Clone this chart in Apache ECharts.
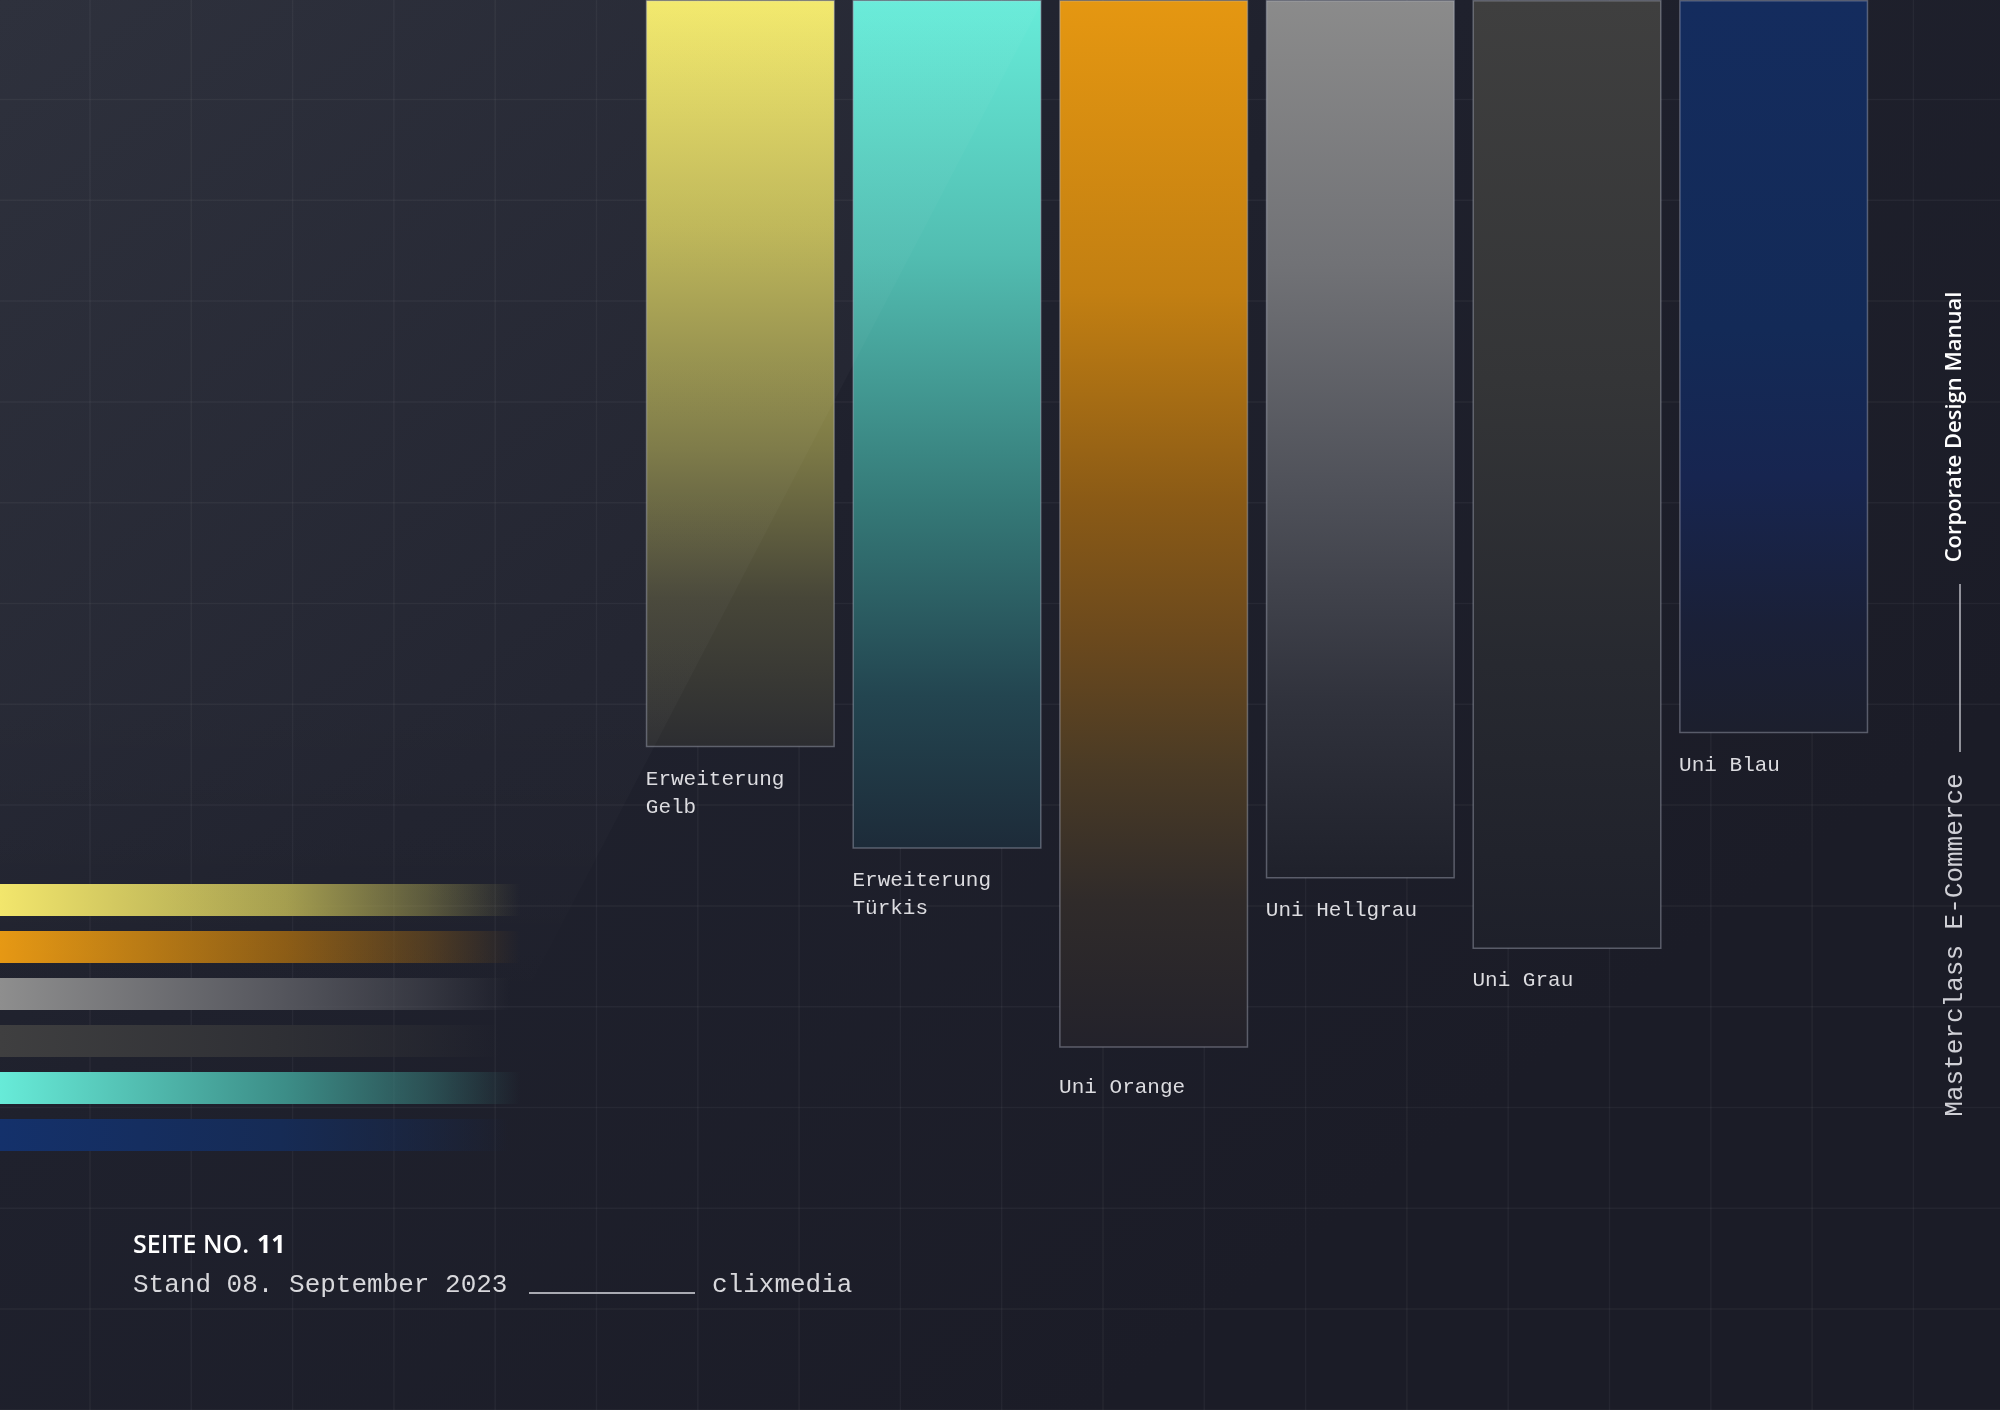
<!DOCTYPE html>
<html>
<head>
<meta charset="utf-8">
<script src="https://cdn.jsdelivr.net/npm/echarts@6/dist/echarts.min.js"></script>
<style>
  html, body { margin: 0; padding: 0; background: #1d1e2a; }
  #chart { width: 2000px; height: 1410px; }
</style>
</head>
<body>
<div id="chart"></div>
<script>
// Farbpalette: hängende Balken (Länge in % der Seitenhöhe)
const categories = ['Erweiterung\nGelb', 'Erweiterung\nTürkis', 'Uni Orange', 'Uni Hellgrau', 'Uni Grau', 'Uni Blau'];
const barLengths = [53.0, 60.2, 74.3, 62.3, 67.3, 52.0];

// Streifen links (Länge in % von 1000px)
const stripeNames = ['Gelb', 'Orange', 'Hellgrau', 'Grau', 'Türkis', 'Blau'];
const stripeLengths = [52, 52, 51, 50, 52, 51];

// Verlaufsfarben
const barStops = {
    'Erweiterung\nGelb': [['#f3e96b', 0], ['#bfb757', 0.3], ['#7c7946', 0.6], ['#474638', 0.8], ['#2c2d31', 1]],
    'Erweiterung\nTürkis': [['#67ecd9', 0], ['#52bdb1', 0.3], ['#357a78', 0.59], ['#234550', 0.82], ['#1d2b39', 1]],
    'Uni Orange': [['#e59711', 0], ['#c27f12', 0.28], ['#8a5a16', 0.48], ['#6b491d', 0.61], ['#4b3b25', 0.73], ['#302b2a', 0.86], ['#23222b', 1]],
    'Uni Hellgrau': [['#8b8b8b', 0], ['#717276', 0.3], ['#50525a', 0.55], ['#30323c', 0.8], ['#1f212b', 1]],
    'Uni Grau': [['#3f3f3f', 0], ['#343537', 0.4], ['#272930', 0.7], ['#1e202a', 1]],
    'Uni Blau': [['#142c5e', 0], ['#132a57', 0.45], ['#172550', 0.65], ['#1a2038', 0.85], ['#1c1f2d', 1]]
};
const stripeColors = {
    'Gelb': ['#f2e66b', '#a49d4e'],
    'Orange': ['#e69813', '#8c5c15'],
    'Hellgrau': ['#8e8e8e', '#55565d'],
    'Grau': ['#3f3f40', '#2f3035'],
    'Türkis': ['#67ebd8', '#3c8d87'],
    'Blau': ['#14316b', '#162b55']
};

function vGrad(stops) {
    return new echarts.graphic.LinearGradient(0, 0, 0, 1,
        stops.map(s => ({ offset: s[1], color: s[0] })));
}

function hGrad(c) {
    return new echarts.graphic.LinearGradient(0, 0, 1, 0, [
        { offset: 0, color: c[0] },
        { offset: 0.55, color: c[1] },
        { offset: 0.82, color: echarts.color.modifyAlpha(c[1], 0.45) },
        { offset: 1, color: echarts.color.modifyAlpha(c[1], 0) }
    ]);
}

const chart = echarts.init(document.getElementById('chart'), null, { renderer: 'canvas' });

// Hintergrund + Raster
const graphics = [{
    type: 'rect', z: -10, silent: true,
    shape: { x: 0, y: 0, width: 2000, height: 1410 },
    style: {
        fill: new echarts.graphic.LinearGradient(0, 0, 0.55, 1, [
            { offset: 0, color: '#292c38' },
            { offset: 0.5, color: '#1f212d' },
            { offset: 1, color: '#1b1c27' }
        ])
    }
}];
for (let x = 90; x < 2000; x += 101.3) {
    graphics.push({
        type: 'line', z: -5, silent: true,
        shape: { x1: x, y1: 0, x2: x, y2: 1410 },
        style: { stroke: 'rgba(255,255,255,0.045)', lineWidth: 1.5 }
    });
}
for (let y = 99.5; y < 1410; y += 100.8) {
    graphics.push({
        type: 'line', z: -5, silent: true,
        shape: { x1: 0, y1: y, x2: 2000, y2: y },
        style: { stroke: 'rgba(255,255,255,0.045)', lineWidth: 1.5 }
    });
}
// Lichtkeil
graphics.push({
    type: 'polygon', z: 5, silent: true,
    shape: { points: [[0, 0], [1043, 0], [517, 1010], [0, 1010]] },
    style: {
        fill: new echarts.graphic.LinearGradient(0, 0, 0, 1, [
            { offset: 0, color: 'rgba(255,255,255,0.025)' },
            { offset: 0.7, color: 'rgba(255,255,255,0.025)' },
            { offset: 1, color: 'rgba(255,255,255,0)' }
        ])
    }
});

// Fußzeile
graphics.push(
    { type: 'text', z: 10, silent: true, x: 133, y: 1246,
      style: { text: 'SEITE NO.', fill: '#ffffff', font: '600 25px "Open Sans"', verticalAlign: 'middle' } },
    { type: 'text', z: 10, silent: true, x: 257, y: 1246,
      style: { text: '11', fill: '#ffffff', font: '700 25px "Open Sans"', verticalAlign: 'middle' } },
    { type: 'text', z: 10, silent: true, x: 133, y: 1285,
      style: { text: 'Stand 08. September 2023', fill: '#d8d8dc', font: '26px "Liberation Mono"', verticalAlign: 'middle' } },
    { type: 'line', z: 10, silent: true,
      shape: { x1: 529, y1: 1293, x2: 695, y2: 1293 },
      style: { stroke: '#a9aab2', lineWidth: 2 } },
    { type: 'text', z: 10, silent: true, x: 712, y: 1285,
      style: { text: 'clixmedia', fill: '#d8d8dc', font: '26px "Liberation Mono"', verticalAlign: 'middle' } }
);

// Seitentitel vertikal
graphics.push(
    { type: 'text', z: 10, silent: true, x: 1955, y: 427, rotation: Math.PI / 2,
      style: { text: 'Corporate Design Manual', fill: '#ffffff', font: '600 22px "Open Sans"', align: 'center', verticalAlign: 'middle' } },
    { type: 'line', z: 10, silent: true,
      shape: { x1: 1960, y1: 584, x2: 1960, y2: 752 },
      style: { stroke: '#b8b9c0', lineWidth: 1.5 } },
    { type: 'text', z: 10, silent: true, x: 1955, y: 945, rotation: Math.PI / 2,
      style: { text: 'Masterclass E-Commerce', fill: '#d0d0d6', font: '26px "Liberation Mono"', align: 'center', verticalAlign: 'middle' } }
);

const option = {
    animation: false,
    graphic: graphics,
    grid: [
        { left: 637, top: -4, width: 1240, height: 1414 },
        { left: 0, top: 876.5, width: 1000, height: 282 }
    ],
    xAxis: [
        { gridIndex: 0, type: 'category', data: categories, show: false },
        { gridIndex: 1, type: 'value', min: 0, max: 100, show: false }
    ],
    yAxis: [
        { gridIndex: 0, type: 'value', min: 0, max: 100, inverse: true, show: false },
        { gridIndex: 1, type: 'category', data: stripeNames, inverse: true, show: false }
    ],
    series: [
        {
            type: 'bar',
            xAxisIndex: 0,
            yAxisIndex: 0,
            barCategoryGap: '8.5%',
            z: 2,
            data: barLengths.map((v, i) => ({
                value: v,
                itemStyle: {
                    color: vGrad(barStops[categories[i]]),
                    borderColor: 'rgba(190,195,210,0.38)',
                    borderWidth: 1.5
                },
                label: categories[i] === 'Uni Orange' ? { offset: [0, 26] } : undefined
            })),
            label: {
                show: true,
                position: ['0%', '100%'],
                offset: [0, 18],
                align: 'left',
                verticalAlign: 'top',
                formatter: p => p.name,
                fontFamily: 'Liberation Mono',
                fontSize: 21,
                lineHeight: 28,
                color: '#dcdce0'
            }
        },
        {
            type: 'bar',
            xAxisIndex: 1,
            yAxisIndex: 1,
            barCategoryGap: '32%',
            z: 2,
            data: stripeLengths.map((v, i) => ({
                value: v,
                itemStyle: { color: hGrad(stripeColors[stripeNames[i]]) }
            }))
        }
    ]
};

chart.setOption(option);
</script>
</body>
</html>
